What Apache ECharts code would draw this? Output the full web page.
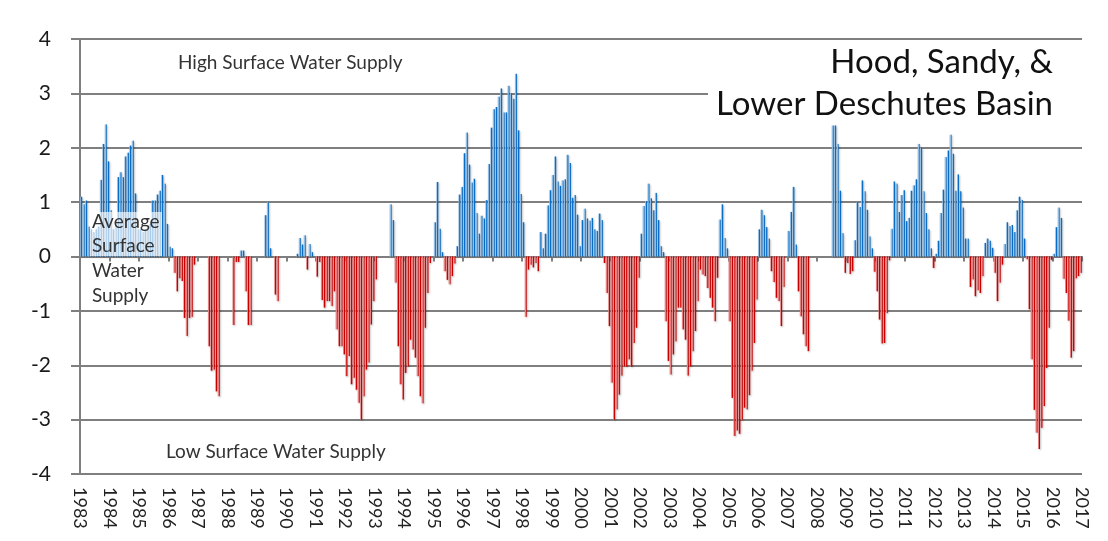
<!DOCTYPE html>
<html>
<head>
<meta charset="utf-8">
<script src="https://cdn.jsdelivr.net/npm/echarts/dist/echarts.min.js"></script>
<style>
html,body{margin:0;padding:0;background:#fff;}
#chart{width:1108px;height:541px;}
</style>
</head>
<body>
<div id="chart"></div>
<script>
// Year tick labels (boundaries between years)
const yearLabels = ['1983','1984','1985','1986','1987','1988','1989','1990','1991','1992',
  '1993','1994','1995','1996','1997','1998','1999','2000','2001','2002','2003','2004',
  '2005','2006','2007','2008','2009','2010','2011','2012','2013','2014','2015','2016','2017'];

const yTicks = [-4,-3,-2,-1,0,1,2,3,4];

// Monthly surface water supply index, one row per year (Jan..Dec)
const swsi = [
  1.10, 0.96, 1.03, 0.55, 0.50, 0.45, 0.50, 0.55, 1.41, 2.07, 2.43, 1.75,   // 1983
  0.85, 0.50, 0.55, 1.46, 1.55, 1.46, 1.84, 1.91, 2.04, 2.13, 1.16, 0.50,   // 1984
  0.50, 0.45, 0.50, 0.55, 0.60, 1.03, 1.03, 1.14, 1.21, 1.50, 1.34, 0.60,   // 1985
  0.18, 0.15, -0.30, -0.64, -0.40, -0.45, -1.13, -1.46, -1.13, -1.11, -0.15, 0, // 1986
  0, 0, 0, 0, -1.65, -2.10, -2.08, -2.48, -2.57, 0, 0, 0,                   // 1987
  0, 0, -1.26, -0.10, -0.10, 0.11, 0.11, -0.64, -1.26, -1.26, 0, 0,         // 1988
  0, 0, 0, 0.76, 1.00, 0.15, 0, -0.70, -0.82, 0, 0, 0,                      // 1989
  0, 0, 0, 0, 0.05, 0.34, 0.22, 0.39, -0.24, 0.23, 0.08, 0,                 // 1990
  -0.37, -0.10, -0.80, -0.94, -0.82, -0.82, -0.91, -0.64, -1.34, -1.65, -1.65, -1.80, // 1991
  -2.20, -1.83, -2.35, -2.23, -2.45, -2.69, -3.00, -2.57, -2.08, -1.95, -1.25, -0.82, // 1992
  -0.42, 0, 0, 0, 0, 0, 0.96, 0.67, -0.48, -1.65, -2.35, -2.63,             // 1993
  -2.14, -2.02, -1.53, -1.71, -1.86, -2.20, -2.57, -2.70, -1.31, -0.67, -0.12, 0, // 1994
  0.63, 1.37, 0.51, 0.08, -0.27, -0.43, -0.51, -0.36, -0.13, 0.19, 1.14, 1.28, // 1995
  1.90, 2.28, 1.69, 1.36, 1.43, 0.80, 0.42, 0.75, 0.70, 1.04, 1.70, 2.37,   // 1996
  2.71, 2.75, 2.94, 3.09, 2.65, 2.65, 3.14, 3.00, 2.90, 3.36, 2.32, 1.15,   // 1997
  0.63, -1.11, -0.24, -0.15, -0.20, -0.12, -0.27, 0.45, 0.15, 0.42, 0.94, 1.22, // 1998
  1.50, 1.84, 1.38, 1.30, 1.40, 1.42, 1.87, 1.72, 1.08, 1.13, 0.77, 0.19,   // 1999
  0.67, 0.88, 0.70, 0.66, 0.71, 0.50, 0.47, 0.79, 0.67, -0.12, -0.67, -1.28, // 2000
  -2.32, -3.00, -2.81, -2.54, -2.19, -2.02, -2.03, -1.89, -2.03, -1.59, -1.31, -0.39, // 2001
  0.42, 0.93, 1.02, 1.34, 1.07, 0.85, 1.17, 0.67, 0.19, 0.08, -1.19, -1.92, // 2002
  -2.17, -1.80, -1.56, -0.94, -0.94, -1.34, -1.53, -2.19, -2.02, -1.74, -1.37, -0.82, // 2003
  -0.24, -0.33, -0.36, -0.58, -0.76, -0.94, -1.19, -0.39, 0.68, 0.96, 0.34, 0.15, // 2004
  -1.19, -2.60, -3.30, -3.20, -3.26, -3.00, -2.78, -2.81, -2.55, -2.10, -1.59, -0.79, // 2005
  0.50, 0.86, 0.76, 0.54, 0.33, -0.27, -0.47, -0.76, -0.82, -1.28, -0.56, 0, // 2006
  0.47, 0.82, 1.28, 0.22, -0.64, -1.10, -1.43, -1.65, -1.74, 0, 0, 0,       // 2007
  0, 0, 0, 0, 0, 0, 2.41, 2.41, 2.07, 1.21, 0.43, -0.30,                    // 2008
  -0.12, -0.32, -0.27, 0.30, 1.00, 0.91, 1.40, 1.20, 0.86, 0.37, 0.15, -0.28, // 2009
  -0.64, -1.16, -1.60, -1.59, -1.04, -0.07, 0.51, 1.38, 1.34, 0.82, 1.13, 1.22, // 2010
  0.65, 0.71, 1.21, 1.31, 1.42, 2.07, 2.00, 1.20, 0.80, 0.50, 0.15, -0.21,  // 2011
  0.05, 0.29, 0.80, 1.23, 1.83, 1.95, 2.24, 1.89, 1.21, 1.51, 1.20, 0.90,   // 2012
  0.33, 0.33, -0.56, -0.42, -0.73, -0.62, -0.67, -0.36, 0.25, 0.33, 0.29, 0.16, // 2013
  -0.30, -0.82, -0.48, -0.15, 0.23, 0.63, 0.56, 0.58, 0.45, 0.85, 1.10, 1.04, // 2014
  0.33, -0.05, -0.97, -1.89, -2.82, -3.24, -3.54, -3.15, -2.75, -2.05, -1.31, -0.06, // 2015
  0.05, 0.54, 0.90, 0.71, -0.41, -0.67, -1.18, -1.86, -1.74, -0.40, -0.36, -0.30  // 2016
];

const titleLines = ['Hood, Sandy, &', 'Lower Deschutes Basin'];
const highLabel = 'High Surface Water Supply';
const lowLabel = 'Low Surface Water Supply';
const avgLabel = ['Average', 'Surface', 'Water', 'Supply'];

const chart = echarts.init(document.getElementById('chart'), null, {renderer: 'canvas'});

const blueGrad = new echarts.graphic.LinearGradient(0, 0, 1, 0, [
  {offset: 0, color: '#8dbbe4'}, {offset: 0.45, color: '#8dbbe4'},
  {offset: 0.55, color: '#0a6cc4'}, {offset: 1, color: '#0a6cc4'}]);
const redGrad = new echarts.graphic.LinearGradient(0, 0, 1, 0, [
  {offset: 0, color: '#e68080'}, {offset: 0.45, color: '#e68080'},
  {offset: 0.55, color: '#c80000'}, {offset: 1, color: '#c80000'}]);

const barData = swsi.map((v, i) => ({
  value: [i + 0.5, v],
  itemStyle: {color: v >= 0 ? blueGrad : redGrad}
}));

const nMonths = (yearLabels.length - 1) * 12;
const gridColor = '#7f7f7f';
const FONT = 'Lato, "Noto Sans", sans-serif';

chart.setOption({
  animation: false,
  backgroundColor: '#ffffff',
  grid: {left: 80, right: 26, top: 39, bottom: 67, containLabel: false},
  xAxis: [{
    type: 'value', min: 0, max: nMonths, interval: 12, position: 'bottom',
    axisLine: {show: false, onZero: false},
    axisTick: {show: false},
    splitLine: {show: false},
    axisLabel: {
      rotate: -90, margin: 13, fontSize: 18, color: '#222', fontFamily: FONT,
      formatter: v => yearLabels[Math.round(v / 12)]
    }
  }, {
    type: 'value', min: 0, max: nMonths, interval: 12, position: 'top',
    axisLine: {show: true, onZero: true, lineStyle: {color: gridColor, width: 2}},
    axisTick: {show: true, inside: true, length: 5, lineStyle: {color: gridColor, width: 2}},
    splitLine: {show: false},
    axisLabel: {show: false}
  }],
  yAxis: {
    type: 'value', min: yTicks[0], max: yTicks[yTicks.length - 1], interval: 1,
    axisLine: {show: true, lineStyle: {color: gridColor, width: 2}},
    axisTick: {show: true, length: 9, lineStyle: {color: gridColor, width: 2}},
    splitLine: {show: true, lineStyle: {color: gridColor, width: 2}},
    axisLabel: {fontSize: 21, color: '#1a1a1a', margin: 29, fontFamily: FONT}
  },
  series: [{
    type: 'bar',
    xAxisIndex: 0,
    data: barData,
    barWidth: 2,
    itemStyle: {shadowBlur: 2, shadowColor: 'rgba(0,0,0,0.25)', shadowOffsetX: 1, shadowOffsetY: 1}
  }],
  graphic: [
    {type: 'rect', z: 100, shape: {x: 708, y: 44, width: 376, height: 80}, style: {fill: '#ffffff'}},
    {type: 'text', z: 101, x: 1053, y: 62, style: {text: titleLines[0], font: '33px ' + FONT, fill: '#111', textAlign: 'right', textVerticalAlign: 'middle'}},
    {type: 'text', z: 101, x: 1053, y: 104, style: {text: titleLines[1], font: '33px ' + FONT, fill: '#111', textAlign: 'right', textVerticalAlign: 'middle'}},
    {type: 'text', z: 101, x: 178, y: 63, style: {text: highLabel, font: '19px ' + FONT, fill: '#333', textAlign: 'left', textVerticalAlign: 'middle'}},
    {type: 'text', z: 101, x: 166, y: 452, style: {text: lowLabel, font: '19px ' + FONT, fill: '#333', textAlign: 'left', textVerticalAlign: 'middle'}},
    {type: 'rect', z: 100, shape: {x: 90, y: 212, width: 72, height: 44}, style: {fill: 'rgba(255,255,255,0.65)'}},
    {type: 'text', z: 101, x: 92, y: 222, style: {text: avgLabel[0], font: '19px ' + FONT, fill: '#333', textAlign: 'left', textVerticalAlign: 'middle'}},
    {type: 'text', z: 101, x: 92, y: 246, style: {text: avgLabel[1], font: '19px ' + FONT, fill: '#333', textAlign: 'left', textVerticalAlign: 'middle'}},
    {type: 'text', z: 101, x: 92, y: 271, style: {text: avgLabel[2], font: '19px ' + FONT, fill: '#333', textAlign: 'left', textVerticalAlign: 'middle'}},
    {type: 'text', z: 101, x: 92, y: 296, style: {text: avgLabel[3], font: '19px ' + FONT, fill: '#333', textAlign: 'left', textVerticalAlign: 'middle'}}
  ]
});
</script>
</body>
</html>
